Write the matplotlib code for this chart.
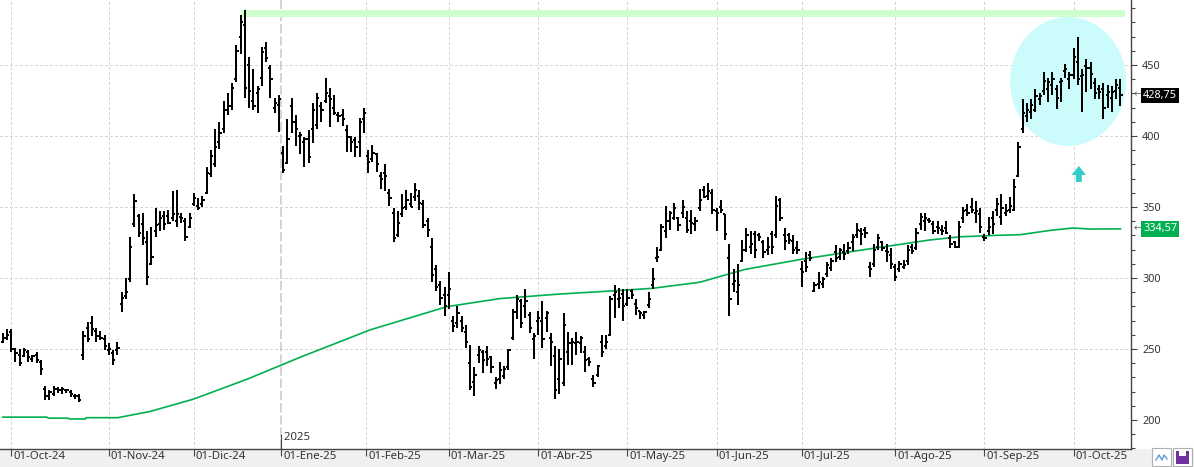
import matplotlib
matplotlib.use("Agg")
import matplotlib.pyplot as plt
from matplotlib.patches import Ellipse, FancyArrow, Rectangle
from matplotlib.ticker import MultipleLocator, FixedLocator
import matplotlib.transforms as mtransforms

plt.rcParams["font.family"] = ["Noto Sans", "DejaVu Sans"]

# --- daily OHLC bars, one entry per trading session ---
highs = [
    261, 264, 264, 251, 250, 251, 249, 246, 248, 242,
    224, 221, 224, 223, 223, 222, 221, 218, 218, 263,
    269, 273, 265, 263, 260, 254, 249, 255, 290, 300,
    329, 359, 345, 346, 333, 336, 349, 347, 347, 348,
    361, 362, 346, 342, 346, 360, 356, 358, 378, 390,
    405, 410, 425, 430, 437, 464, 485, 489, 456, 447,
    435, 463, 466, 450, 427, 429, 393, 412, 427, 415,
    403, 399, 404, 423, 430, 424, 441, 434, 429, 417,
    419, 408, 400, 399, 413, 420, 390, 394, 388, 375,
    380, 363, 349, 347, 359, 362, 360, 367, 362, 355,
    342, 328, 309, 298, 294, 304, 273, 280, 273, 267,
    253, 237, 252, 249, 252, 245, 230, 241, 238, 250,
    278, 288, 285, 292, 276, 261, 277, 284, 277, 261,
    252, 250, 275, 262, 258, 262, 259, 252, 244, 232,
    239, 260, 260, 287, 295, 293, 292, 292, 292, 285,
    277, 277, 290, 307, 322, 338, 351, 347, 353, 343,
    355, 347, 348, 343, 363, 365, 367, 363, 349, 355,
    345, 324, 306, 310, 327, 335, 333, 333, 332, 327,
    329, 333, 358, 356, 335, 332, 330, 326, 312, 318,
    319, 297, 304, 301, 311, 314, 323, 321, 324, 325,
    331, 339, 335, 336, 311, 324, 331, 326, 324, 321,
    310, 312, 313, 323, 324, 335, 346, 346, 342, 340,
    340, 337, 340, 330, 326, 340, 350, 352, 356, 354,
    349, 331, 343, 347, 356, 359, 352, 357, 370, 396,
    426, 423, 426, 433, 430, 445, 441, 445, 436, 441,
    451, 445, 462, 470, 447, 454, 452, 441, 436, 437,
    436, 435, 440, 440,
]
lows = [
    254, 256, 248, 241, 238, 244, 241, 241, 240, 232,
    214, 214, 217, 219, 218, 219, 216, 215, 213, 242,
    255, 259, 255, 256, 249, 246, 239, 246, 276, 285,
    297, 336, 329, 323, 295, 309, 329, 333, 334, 338,
    340, 336, 339, 326, 335, 351, 348, 350, 359, 371,
    378, 391, 402, 415, 418, 438, 458, 427, 420, 418,
    416, 435, 452, 427, 416, 403, 374, 380, 402, 393,
    387, 378, 381, 395, 405, 410, 423, 406, 415, 410,
    407, 389, 389, 385, 385, 402, 374, 382, 375, 363,
    361, 351, 325, 329, 343, 348, 350, 354, 348, 335,
    329, 297, 291, 281, 273, 278, 262, 265, 262, 251,
    221, 217, 240, 233, 238, 233, 222, 225, 229, 235,
    256, 271, 265, 272, 261, 243, 260, 251, 262, 238,
    215, 218, 224, 239, 239, 246, 247, 234, 238, 223,
    230, 244, 250, 259, 272, 279, 270, 280, 285, 274,
    271, 271, 279, 292, 311, 319, 328, 334, 341, 333,
    342, 332, 331, 333, 347, 356, 355, 345, 333, 346,
    327, 273, 290, 281, 311, 318, 317, 314, 326, 314,
    316, 317, 328, 340, 320, 324, 317, 317, 294, 304,
    312, 290, 292, 293, 301, 305, 311, 313, 313, 317,
    319, 328, 323, 328, 301, 308, 320, 319, 311, 306,
    298, 304, 306, 309, 317, 320, 334, 333, 339, 331,
    331, 330, 331, 321, 321, 321, 339, 344, 346, 339,
    332, 326, 330, 331, 344, 337, 344, 346, 347, 371,
    402, 410, 412, 417, 422, 429, 424, 429, 419, 424,
    441, 433, 440, 436, 417, 431, 433, 426, 426, 412,
    420, 417, 426, 421,
]
opens = [
    255, 258, 262, 250, 246, 245, 248, 243, 246, 241,
    222, 217, 218, 222, 221, 221, 220, 217, 217, 246,
    265, 268, 263, 259, 257, 249, 247, 249, 282, 287,
    299, 338, 344, 338, 325, 310, 333, 338, 344, 344,
    342, 340, 343, 340, 336, 352, 351, 352, 360, 373,
    380, 396, 405, 418, 421, 440, 470, 478, 450, 425,
    430, 441, 462, 448, 420, 422, 388, 381, 421, 410,
    400, 396, 398, 405, 408, 421, 425, 428, 420, 415,
    415, 404, 399, 397, 396, 412, 386, 384, 387, 372,
    374, 360, 346, 330, 345, 350, 352, 357, 358, 352,
    340, 322, 306, 295, 288, 288, 270, 268, 270, 262,
    240, 227, 246, 248, 248, 244, 226, 229, 231, 237,
    258, 276, 284, 280, 274, 257, 270, 270, 272, 258,
    245, 229, 226, 248, 254, 254, 254, 248, 243, 229,
    232, 255, 252, 260, 288, 285, 289, 282, 291, 282,
    277, 274, 281, 295, 314, 320, 333, 340, 342, 342,
    346, 342, 340, 338, 349, 362, 358, 360, 347, 350,
    345, 314, 296, 290, 312, 320, 322, 331, 330, 325,
    320, 331, 330, 355, 330, 330, 326, 321, 306, 312,
    316, 291, 296, 296, 303, 307, 318, 315, 318, 319,
    325, 330, 333, 334, 308, 310, 322, 325, 319, 316,
    308, 306, 308, 312, 322, 321, 338, 340, 341, 338,
    336, 334, 335, 328, 325, 322, 342, 348, 350, 346,
    345, 329, 333, 342, 348, 343, 346, 348, 348, 372,
    405, 414, 417, 418, 426, 432, 433, 436, 433, 438,
    446, 440, 443, 452, 442, 449, 448, 437, 433, 433,
    429, 427, 432, 434,
]
closes = [
    258, 260, 250, 247, 240, 249, 244, 245, 242, 236,
    217, 220, 222, 221, 222, 221, 218, 217, 214, 259,
    257, 264, 259, 258, 252, 250, 242, 251, 286, 290,
    322, 354, 332, 328, 301, 315, 337, 342, 338, 339,
    345, 345, 342, 329, 342, 356, 349, 355, 374, 386,
    392, 402, 418, 421, 434, 460, 480, 434, 432, 421,
    433, 459, 455, 440, 423, 426, 376, 398, 410, 405,
    401, 398, 385, 418, 427, 418, 430, 426, 416, 414,
    412, 399, 396, 392, 410, 416, 382, 388, 380, 370,
    372, 356, 328, 339, 349, 355, 350, 362, 353, 337,
    334, 302, 294, 286, 280, 292, 266, 275, 265, 255,
    223, 232, 249, 242, 243, 237, 228, 235, 236, 249,
    276, 285, 268, 284, 265, 259, 272, 257, 275, 255,
    221, 243, 267, 254, 255, 255, 258, 242, 241, 226,
    238, 248, 255, 285, 290, 286, 280, 286, 288, 279,
    275, 276, 285, 299, 315, 336, 340, 346, 349, 337,
    350, 334, 339, 340, 355, 357, 361, 348, 346, 348,
    331, 285, 298, 295, 320, 330, 324, 320, 329, 318,
    322, 322, 351, 342, 326, 327, 320, 320, 304, 308,
    314, 295, 297, 299, 309, 312, 314, 320, 317, 321,
    329, 334, 331, 332, 306, 320, 328, 321, 318, 310,
    301, 310, 309, 320, 319, 332, 343, 342, 340, 333,
    335, 333, 332, 324, 322, 336, 347, 346, 348, 347,
    336, 328, 336, 338, 352, 349, 347, 351, 364, 392,
    416, 418, 422, 428, 428, 439, 438, 440, 427, 439,
    447, 443, 456, 440, 443, 448, 444, 430, 431, 420,
    431, 431, 436, 428.75,
]

# 200-session moving average, read at points along the curve (session index, value)
sma_idx = [0, 10.4, 10.7, 15.4, 15.6, 19.4, 19.6, 27.1, 34.7, 44.8,
           57.5, 70, 86.4, 104.5, 117, 131.1, 142.9, 152.8, 164, 174.6,
           187.6, 201.7, 218.2, 225.2, 233.5, 239.4, 246.4, 251.8, 255.8, 263]
sma_vals = [202.0, 202.0, 201.3, 201.3, 200.7, 200.7, 201.6, 201.6, 206.0, 214.6,
            228.7, 244.2, 263.4, 279.8, 285.5, 288.7, 290.8, 292.7, 297.0, 306.0,
            313.0, 319.5, 326.8, 329.0, 330.0, 330.5, 333.5, 335.2, 334.5, 334.57]

month_labels = ["01-Oct-24", "01-Nov-24", "01-Dic-24", "01-Ene-25", "01-Feb-25",
                "01-Mar-25", "01-Abr-25", "01-May-25", "01-Jun-25", "01-Jul-25",
                "01-Ago-25", "01-Sep-25", "01-Oct-25"]
month_idx = [2, 25, 45, 65.5, 85.5, 105, 126, 147, 168, 188, 210, 231, 252]
year_idx = 65.5

last_close = 428.75
last_sma = 334.57

# resistance zone at the December high, and the highlighted consolidation
resist_lo, resist_hi = 483.5, 488.7
resist_from, resist_to = 56.0, 264.1
zone_center = (250.7, 438.4)
zone_w, zone_h = 27.3, 90.8

_BAR = "#000000"
_SMA = "#00b050"
_GRID = "#d6d6d6"
_AXIS = "#444444"
_TEXT = "#333333"

W, H = 1194, 467
AX_R = 1131     # right edge of plot area (px)
AX_B = 448.5    # bottom edge of plot area (px from top)

fig = plt.figure(figsize=(W / 100, H / 100), dpi=100)
ax = fig.add_axes([0, (H - AX_B) / H, AX_R / W, AX_B / H])

# bottom grey strip under the axis
fig.patches.append(Rectangle((0, 0), 1, (H - AX_B) / H, transform=fig.transFigure,
                             facecolor="#f0f0f0", edgecolor="none", zorder=-5))

x = list(range(len(highs)))

# --- grid ---
for p in month_idx:
    if p == year_idx:
        continue
    ax.axvline(p, color=_GRID, linewidth=0.75, linestyle=(0, (2.7, 2.7)),
               antialiased=False, zorder=0.5)
for v in [250, 300, 350, 400, 450]:
    ax.axhline(v, color=_GRID, linewidth=0.75, linestyle=(0, (2.7, 2.7)),
               antialiased=False, zorder=0.5)
ax.axvline(year_idx, color="#c8c8c8", linewidth=1.1, linestyle=(0, (6, 2)), zorder=0.6)

# --- annotations beneath the bars ---
ax.add_patch(Rectangle((resist_from, resist_lo), resist_to - resist_from,
                       resist_hi - resist_lo, facecolor="#ccffcc",
                       edgecolor="none", zorder=0.8))
ax.add_patch(Ellipse(zone_center, zone_w, zone_h, facecolor="#ccfbfb",
                     edgecolor="none", zorder=0.9))
ax.add_patch(FancyArrow(253.2, 367.6, 0, 11.3, width=1.4, head_width=3.4,
                        head_length=6.3, length_includes_head=True,
                        facecolor="#33cccc", edgecolor="none", zorder=1))

# --- OHLC bars ---
ax.vlines(x, lows, highs, color=_BAR, linewidth=1.1, antialiased=False, zorder=3)
ax.hlines(opens, [i - 0.5 for i in x], x, color=_BAR, linewidth=1.1,
          antialiased=False, zorder=3)
ax.hlines(closes, x, [i + 0.5 for i in x], color=_BAR, linewidth=1.1,
          antialiased=False, zorder=3)

# --- moving average ---
ax.plot(sma_idx, sma_vals, color=_SMA, linewidth=1.2, zorder=2.5)

ax.set_xlim(-0.64, (AX_R - 2.7) / 4.25)
ax.set_ylim(179.9, 495.8)

# --- axes styling ---
for side in ("left", "top"):
    ax.spines[side].set_visible(False)
for side in ("right", "bottom"):
    ax.spines[side].set_color(_AXIS)
    ax.spines[side].set_linewidth(1.0)

ax.yaxis.tick_right()
ax.yaxis.set_major_locator(FixedLocator([200, 250, 300, 350, 400, 450]))
ax.yaxis.set_minor_locator(MultipleLocator(10))
ax.tick_params(axis="y", which="major", length=4.5, width=0.8, color=_AXIS,
               labelsize=7.8, labelcolor=_TEXT, pad=3.5)
ax.tick_params(axis="y", which="minor", length=3, width=0.8, color=_AXIS)

ax.set_xticks(month_idx)
ax.set_xticklabels(month_labels)
ax.tick_params(axis="x", length=5, width=0.8, color=_AXIS, labelsize=8.2,
               labelcolor=_TEXT, pad=-3.5)
offset = mtransforms.ScaledTranslation(2 / 100, 0, fig.dpi_scale_trans)
for lbl in ax.get_xticklabels():
    lbl.set_horizontalalignment("left")
    lbl.set_transform(lbl.get_transform() + offset)

# year marker on the bottom axis
xt = ax.get_xaxis_transform()
ax.plot([year_idx, year_idx], [0, 14 / AX_B], color=_AXIS, linewidth=0.8,
        transform=xt, clip_on=False, zorder=4)
ax.text(year_idx, 11 / AX_B, " 2025", transform=xt, fontsize=8.2, color=_TEXT,
        ha="left", va="center")

# --- last-value tags on the price axis ---
yt = ax.get_yaxis_transform()
for val, bg in ((last_close, "#000000"), (last_sma, "#00b050")):
    ax.text(1 + 3 / AX_R, val, "\u2190", transform=yt, fontsize=7, color="#666666",
            ha="left", va="center", clip_on=False)
    ax.text(1 + 12 / AX_R, val, f"{val:.2f}".replace(".", ","), transform=yt,
            fontsize=7.8, color="white", ha="left", va="center", clip_on=False,
            bbox=dict(boxstyle="square,pad=0.2", facecolor=bg, edgecolor="none"))

# --- small toolbar buttons in the bottom-right corner ---
def _px(x0, y0, w, h):
    return (x0 / W, (H - y0 - h) / H), w / W, h / H

for bx in (1152, 1173):
    xy, w, h = _px(bx, 448, 19, 18)
    fig.patches.append(Rectangle(xy, w, h, transform=fig.transFigure,
                                 facecolor="white", edgecolor="#b0b0b0",
                                 linewidth=0.8))
xs = [1156, 1159, 1162, 1164, 1167]
fig.lines.append(plt.Line2D([v / W for v in xs],
                            [(H - yy) / H for yy in (460, 455, 460, 455, 459)],
                            transform=fig.transFigure, color="#5b9bd5", linewidth=1.0))
xy, w, h = _px(1176, 451, 13, 13)
fig.patches.append(Rectangle(xy, w, h, transform=fig.transFigure,
                             facecolor="#7030a0", edgecolor="none"))
xy, w, h = _px(1179, 451, 7, 5)
fig.patches.append(Rectangle(xy, w, h, transform=fig.transFigure,
                             facecolor="white", edgecolor="none"))

fig.savefig("out.png", dpi=100)
